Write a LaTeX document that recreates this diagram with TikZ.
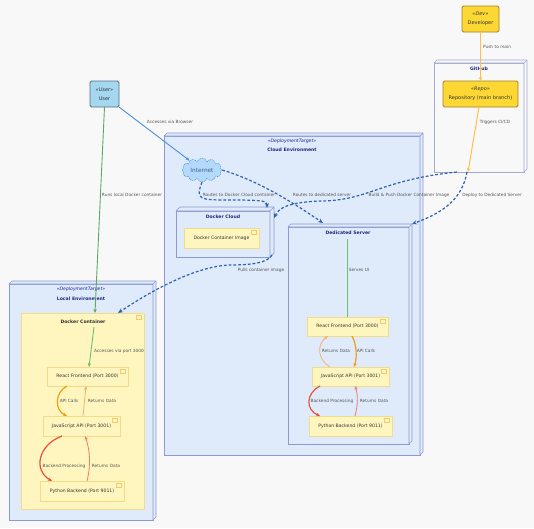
\documentclass[tikz,border=0pt]{standalone}
\usepackage{fontspec}
\setmainfont{DejaVu Sans}
\usetikzlibrary{shapes.symbols,arrows.meta,calc}

\definecolor{bg}{HTML}{F8F8F8}
\definecolor{envfill}{HTML}{DFEAFB}
\definecolor{envborder}{HTML}{8C9AD0}
\definecolor{navy}{HTML}{1F2A7A}
\definecolor{compfill}{HTML}{FFF6BF}
\definecolor{compborder}{HTML}{F0DC8A}
\definecolor{gold}{HTML}{FDD835}
\definecolor{goldborder}{HTML}{9E8228}
\definecolor{userfill}{HTML}{A3D8F0}
\definecolor{userborder}{HTML}{546E7A}
\definecolor{ghborder}{HTML}{A4A8D4}
\definecolor{inetfill}{HTML}{B3DAFA}
\definecolor{inetborder}{HTML}{4E8FD6}
\definecolor{blueline}{HTML}{4A90D9}
\definecolor{dashblue}{HTML}{2F62AE}
\definecolor{greenline}{HTML}{5DAA5D}
\definecolor{lightgreen}{HTML}{6CBF6C}
\definecolor{yellowline}{HTML}{FFC043}
\definecolor{orangeA}{HTML}{F39C12}
\definecolor{orangeR}{HTML}{F6B26B}
\definecolor{redA}{HTML}{E5533D}
\definecolor{redR}{HTML}{EE7B6B}
\definecolor{lbltxt}{HTML}{555555}
\definecolor{txt}{HTML}{333333}

\newcommand\boxdepth[3]{%
  \filldraw[#3] (#1.north west) -- ++(#2,-#2) -- ($(#1.north east)+(#2,-#2)$)
    -- ($(#1.south east)+(#2,-#2)$) -- (#1.south east) -- (#1.north east) -- cycle;
  \draw[#3] (#1.north east) -- ++(#2,-#2);}
\newcommand\compicon[1]{%
  \draw[compicn] ($(#1.north east)+(-8,2)$) rectangle ($(#1.north east)+(-3,6)$);}

\begin{document}
\begin{tikzpicture}[x=1pt,y=-1pt,
  envbox/.style={draw=envborder, fill=envfill, line width=0.6pt, anchor=north west, inner sep=0pt, outer sep=0pt},
  envdepth/.style={draw=envborder, fill=envfill, line width=0.6pt, line join=round},
  ghbox/.style={draw=ghborder, fill=bg, line width=0.6pt, anchor=north west, inner sep=0pt, outer sep=0pt},
  ghdepth/.style={draw=ghborder, fill=bg, line width=0.6pt, line join=round},
  comp/.style={draw=compborder, fill=compfill, line width=0.6pt, anchor=north west, inner sep=0pt, outer sep=0pt,
    font=\fontsize{4.6}{5.5}\selectfont, text=txt},
  compicn/.style={draw=compborder!80!orange, line width=0.4pt},
  actor/.style={rounded corners=1.5pt, line width=0.8pt, anchor=north west, inner sep=0pt, outer sep=0pt,
    align=center, font=\fontsize{5}{9}\selectfont, text=txt},
  lbl/.style={font=\fontsize{4.3}{5}\selectfont, text=lbltxt, inner sep=0pt},
  ttl/.style={font=\bfseries\fontsize{4.6}{5.5}\selectfont, text=navy, inner sep=0pt},
  ster/.style={font=\itshape\fontsize{4.6}{5.5}\selectfont, text=navy!80!blue, inner sep=0pt},
  tip/.style={-{Stealth[length=4pt,width=3.4pt]}},
  dashconn/.style={-{Stealth[length=5pt,width=4.2pt]}, draw=dashblue, line width=1.2pt, dash pattern=on 2.8pt off 2pt},
  ]
\useasboundingbox[fill=bg] (0,0) rectangle (534,528);

% ---------- Cloud environment ----------
\node[envbox, minimum width=256pt, minimum height=319pt] (cloudenv) at (164,136) {};
\boxdepth{cloudenv}{3}{envdepth}
\node[ster] (cloudster) at (292,141) {«DeploymentTarget»};
\node[ttl] (cloudttl) at (292,150) {Cloud Environment};

% Docker Cloud
\node[envbox, minimum width=94pt, minimum height=46pt] (dcloud) at (176,211) {};
\boxdepth{dcloud}{4}{envdepth}
\node[ttl] (dcloudttl) at (223,217) {Docker Cloud};
\node[comp, minimum width=75pt, minimum height=20pt] (dimage) at (184,228) {Docker Container Image};
\compicon{dimage}

% Dedicated server
\node[envbox, minimum width=121pt, minimum height=217pt] (ded) at (288,227) {};
\boxdepth{ded}{3}{envdepth}
\node[ttl] (dedttl) at (348,233) {Dedicated Server};
\node[comp, minimum width=81pt, minimum height=19pt] (reactD) at (307,317) {React Frontend (Port 3000)};
\node[comp, minimum width=77pt, minimum height=19pt] (jsD) at (312,367) {JavaScript API (Port 3001)};
\node[comp, minimum width=83pt, minimum height=20pt] (pyD) at (309,416) {Python Backend (Port 9011)};
\compicon{reactD}\compicon{jsD}\compicon{pyD}

% Internet
\node[cloud, cloud puffs=12, aspect=1.8, draw=inetborder, fill=inetfill, dash pattern=on 1pt off 0.8pt,
  line width=0.5pt, minimum width=40pt, minimum height=23pt, inner sep=0pt,
  font=\fontsize{5.8}{6}\selectfont, text=inetborder!70!black] (inet) at (202,170) {Internet};

% ---------- Local environment ----------
\node[envbox, minimum width=144pt, minimum height=236pt] (localenv) at (9,284) {};
\boxdepth{localenv}{3}{envdepth}
\node[ster] (localster) at (81,289) {«DeploymentTarget»};
\node[ttl] (localttl) at (81,299) {Local Environment};
\node[comp, minimum width=123pt, minimum height=196pt] (dockerL) at (21,313) {};
\compicon{dockerL}
\node[ttl, text=txt] (dockerLttl) at (83,322) {Docker Container};
\node[comp, minimum width=81pt, minimum height=19pt] (reactL) at (47,367) {React Frontend (Port 3000)};
\node[comp, minimum width=77pt, minimum height=20pt] (jsL) at (43,416) {JavaScript API (Port 3001)};
\node[comp, minimum width=84pt, minimum height=20pt] (pyL) at (40,481) {Python Backend (Port 9011)};
\compicon{reactL}\compicon{jsL}\compicon{pyL}

% ---------- GitHub ----------
\node[ghbox, minimum width=90pt, minimum height=109pt] (github) at (434,63) {};
\boxdepth{github}{3}{ghdepth}
\node[ttl] (githubttl) at (479,69) {GitHub};
\node[actor, draw=goldborder, fill=gold, minimum width=75pt, minimum height=26pt] (repo) at (443,81)
  {{\itshape «Repo»}\\Repository (main branch)};
\node[actor, draw=goldborder, fill=gold, minimum width=37pt, minimum height=26pt] (dev) at (462,6)
  {{\itshape «Dev»}\\Developer};

% ---------- User ----------
\node[actor, draw=userborder, fill=userfill, minimum width=29pt, minimum height=26pt] (user) at (90,81)
  {{\itshape «User»}\\User};

% ---------- Connectors ----------
\coordinate (dsui) at (347,239);
\coordinate (dcport) at (94,327);

% user
\draw[tip, draw=blueline, line width=0.9pt] (user.south east) -- (inet);
\node[lbl] (l1) at (170,122) {Accesses via Browser};
\draw[tip, draw=greenline, line width=0.9pt] (user.south) -- ($(dockerL.north west)+(74,0)$);
\node[lbl] (l2) at (132,195) {Runs local Docker container};

% github
\draw[tip, draw=yellowline, line width=1pt] (dev.south) -- (repo.north);
\node[lbl] (l3) at (497,47) {Push to main};
\draw[tip, draw=yellowline, line width=1pt] ($(repo.south)+(-1.5,0)$) -- ($(github.south west)+(34,0)$);
\node[lbl] (l4) at (495,122) {Triggers CI/CD};

% dashed
\draw[dashconn] (inet.south) .. controls (195,200) and (200,200) .. (230,200)
  .. controls (264,200) and (267,201) .. ($(dcloud.north east)+(-3,-3)$);
\node[lbl] (l5) at (239,195) {Routes to Docker Cloud container};
\draw[dashconn] (inet.east) .. controls (262,182) and (298,206) .. ($(ded.north west)+(35,-4)$);
\node[lbl] (l6) at (322,195) {Routes to dedicated server};
\draw[dashconn] ($(github.south west)+(23,0)$) .. controls (380,180) and (370,200) .. (322,201)
  .. controls (288,202) and (279,208) .. ($(dcloud.north east)+(4,7)$);
\node[lbl] (l7) at (409,195) {Build \& Push Docker Container Image};
\draw[dashconn] ($(github.south west)+(33,0)$) .. controls (462,200) and (442,213) .. ($(ded.north east)+(3,-3)$);
\node[lbl] (l8) at (492,195) {Deploy to Dedicated Server};
\draw[dashconn] ($(dcloud.south east)+(2,-2)$) .. controls (268,262) and (255,265) .. (230,265)
  .. controls (200,266) and (160,285) .. ($(dockerL.north west)+(97,0)$);
\node[lbl] (l9) at (261,270) {Pulls container image};

% dedicated server inner
\draw[draw=lightgreen, line width=0.9pt] (dsui) -- ($(reactD.north west)+(40,0)$);
\node[lbl] (l10) at (359,270) {Serves UI};
\draw[tip, draw=orangeR, line width=0.8pt] ($(jsD.north west)+(18,0)$) .. controls (318,360) and (316,345) .. ($(reactD.south west)+(21,0)$);
\node[lbl] (l11) at (336,351) {Returns Data};
\draw[tip, draw=orangeA, line width=1.2pt] ($(reactD.south west)+(45,0)$) .. controls (357,345) and (357,358) .. ($(jsD.north west)+(42,0)$);
\node[lbl] (l12) at (366,351) {API Calls};
\draw[tip, draw=redA, line width=1.2pt] ($(jsD.south west)+(8,0)$) .. controls (305,394) and (306,410) .. ($(pyD.north west)+(11,0)$);
\node[lbl] (l13) at (332,401) {Backend Processing};
\draw[tip, draw=redR, line width=0.8pt] ($(pyD.north west)+(46,0)$) .. controls (358,405) and (358,395) .. ($(jsD.south west)+(43,0)$);
\node[lbl] (l14) at (374,401) {Returns Data};

% local inner
\draw[tip, draw=lightgreen, line width=0.9pt] (dcport) -- ($(reactL.north west)+(42,0)$);
\node[lbl] (l15) at (119,351) {Accesses via port 3000};
\draw[tip, draw=orangeA, line width=1.2pt] ($(reactL.south west)+(20,0)$) .. controls (55,392) and (54,410) .. ($(jsL.north west)+(24,0)$);
\node[lbl] (l16) at (69,401) {API Calls};
\draw[tip, draw=orangeR, line width=0.8pt] ($(jsL.north west)+(40,0)$) -- ($(reactL.south west)+(39,0)$);
\node[lbl] (l17) at (102,401) {Returns Data};
\draw[tip, draw=redA, line width=1.2pt] ($(jsL.south west)+(19,0)$) .. controls (38,445) and (33,470) .. ($(pyL.north west)+(12,0)$);
\node[lbl] (l18) at (64,466) {Backend Processing};
\draw[tip, draw=redR, line width=0.8pt] ($(pyL.north west)+(47,0)$) .. controls (91,465) and (90,450) .. ($(jsL.south west)+(42,0)$);
\node[lbl] (l19) at (106,466) {Returns Data};
\end{tikzpicture}
\end{document}
